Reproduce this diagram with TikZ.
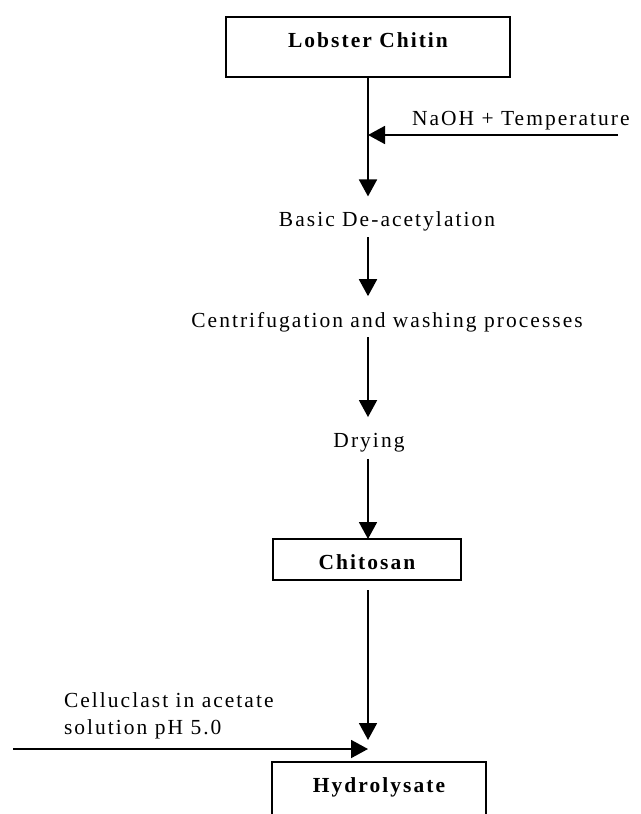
\documentclass[tikz,border=0pt]{standalone}
\usepackage{fontspec}
\setmainfont{Liberation Serif}[LetterSpace=9.5]
\usetikzlibrary{arrows.meta}
\begin{document}
\begin{tikzpicture}[x=0.75pt,y=-0.75pt,
  every node/.style={font=\fontsize{16.1}{20.25}\selectfont, inner sep=0pt, outer sep=0pt},
  boxnode/.style={draw, line width=1.4pt, font=\fontsize{16.1}{20.25}\selectfont\bfseries},
  lbl/.style={anchor=base},
  flow/.style={line width=1.4pt, -{Triangle[length=12.75pt,width=13.5pt]}},
  frame/.style={line width=1.4pt}]
\useasboundingbox (0,0) rectangle (640,814);

% boxes
\node[boxnode, minimum width=213pt, minimum height=45pt, text height=8pt, text depth=8pt] (lob) at (368,47) {Lobster Chitin};
\node[boxnode, minimum width=141pt, minimum height=30.75pt, text height=14.25pt, text depth=0pt] (chit) at (367,559.5) {Chitosan};
\node[lbl, font=\fontsize{16.1}{20.25}\selectfont\bfseries] (hyd) at (379,792) {Hydrolysate};
\draw[frame] (272,816) |- (486,762) -- (486,816);

% step texts
\node[lbl] (basic) at (387,226) {Basic De-acetylation};
\node[lbl] (centr) at (387,327.7) {Centrifugation and washing processes};
\node[lbl] (dry) at (369,447) {Drying};

% side labels
\node[anchor=base west] (naoh) at (412,125) {NaOH + Temperature};
\node[anchor=north west, align=left] (cell) at (64,693) {Celluclast in acetate\\solution pH 5.0};

% coordinates
\coordinate (nastart) at (618,135);
\coordinate (najoin) at (368,135);
\coordinate (cstart) at (13,749);
\coordinate (cjoin) at (368,749);
\coordinate (htip) at (368,740);

% main flow (spine at x of lob.south)
\draw[flow, shorten >=11pt] (lob.south) -- (lob.south |- basic.north);
\draw[flow, shorten <=4.8pt, shorten >=12.3pt] (lob.south |- basic.south) -- (lob.south |- centr.north);
\draw[flow, shorten <=3.75pt, shorten >=11.8pt] (lob.south |- centr.south) -- (lob.south |- dry.north);
\draw[flow, shorten <=5.5pt] (lob.south |- dry.south) -- (lob.south |- chit.north);
\draw[flow, shorten <=7.5pt] (lob.south |- chit.south) -- (htip);

% side inputs
\draw[flow] (nastart) -- (najoin);
\draw[flow] (cstart) -- (cjoin);
\end{tikzpicture}
\end{document}
